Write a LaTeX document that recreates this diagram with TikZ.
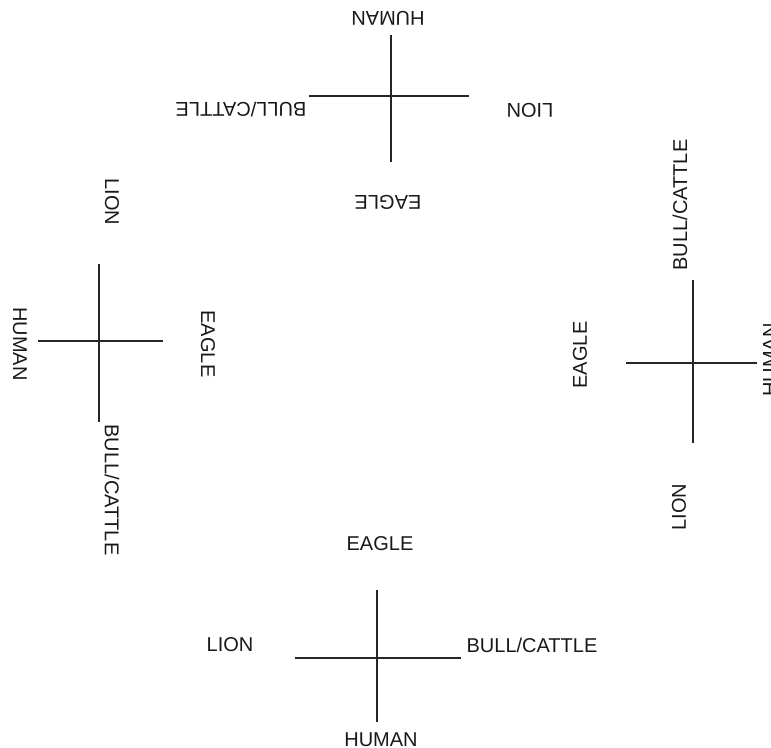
\documentclass[tikz,border=0pt]{standalone}
\usepackage{fontspec}
\setmainfont{Liberation Sans}
\begin{document}
\begin{tikzpicture}[x=0.75pt, y=-0.75pt]
% drawing measured in pixels of the page, y downwards
\providecommand{\crossLineColor}{black!85}
\providecommand{\crossLineWidth}{1.8pt}
\providecommand{\wordColor}{black!90}
\tikzset{
  crossarm/.style={draw=\crossLineColor, line width=\crossLineWidth, line cap=butt},
  facename/.style={inner sep=0pt, text=\wordColor, font=\fontsize{15pt}{15pt}\selectfont}
}
\useasboundingbox (0,0) rectangle (771,747);
\clip (0,0) rectangle (771,747);
% Top cross, turned upside down
\begin{scope}[every node/.style={facename, rotate=180}]
  \coordinate (topN) at (391,35);
  \coordinate (topS) at (391,162);
  \coordinate (topW) at (309,96);
  \coordinate (topE) at (469,96);
  \draw[crossarm] (topN) -- (topS);
  \draw[crossarm] (topW) -- (topE);
  \node (topHuman) at (388,18) {HUMAN};
  \node (topBull) at (241,110) {BULL/CATTLE};
  \node (topLion) at (530,110) {LION};
  \node (topEagle) at (388,202) {EAGLE};
\end{scope}
% Left cross, turned clockwise
\begin{scope}[every node/.style={facename, rotate=-90}]
  \coordinate (lftN) at (99,264);
  \coordinate (lftS) at (99,422);
  \coordinate (lftW) at (38,341);
  \coordinate (lftE) at (163,341);
  \draw[crossarm] (lftN) -- (lftS);
  \draw[crossarm] (lftW) -- (lftE);
  \node (lftLion) at (112,202) {LION};
  \node (lftHuman) at (20,344) {HUMAN};
  \node (lftEagle) at (208,344) {EAGLE};
  \node (lftBull) at (112,490) {BULL/CATTLE};
\end{scope}
% Right cross, turned counter-clockwise
\begin{scope}[every node/.style={facename, rotate=90}]
  \coordinate (rgtN) at (693,280);
  \coordinate (rgtS) at (693,443);
  \coordinate (rgtW) at (626,363);
  \coordinate (rgtE) at (757,363);
  \draw[crossarm] (rgtN) -- (rgtS);
  \draw[crossarm] (rgtW) -- (rgtE);
  \node (rgtBull) at (680,205) {BULL/CATTLE};
  \node (rgtEagle) at (580,355) {EAGLE};
  \node (rgtLion) at (679,507) {LION};
  \node (rgtHuman) at (770,360) {HUMAN};
\end{scope}
% Bottom cross, upright
\begin{scope}[every node/.style={facename}]
  \coordinate (botN) at (377,590);
  \coordinate (botS) at (377,722);
  \coordinate (botW) at (295,658);
  \coordinate (botE) at (461,658);
  \draw[crossarm] (botN) -- (botS);
  \draw[crossarm] (botW) -- (botE);
  \node (botEagle) at (380,544) {EAGLE};
  \node (botLion) at (230,645) {LION};
  \node (botBull) at (532,645) {BULL/CATTLE};
  \node (botHuman) at (381,740) {HUMAN};
\end{scope}
\end{tikzpicture}
\end{document}
